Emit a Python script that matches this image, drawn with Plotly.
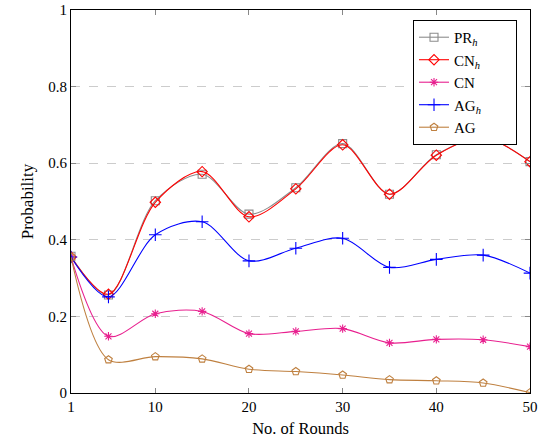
import plotly.graph_objects as go

rounds = [1, 5, 10, 15, 20, 25, 30, 35, 40, 45, 50]
pr_h = [0.357, 0.256, 0.502, 0.571, 0.467, 0.536, 0.651, 0.519, 0.622, 0.667, 0.604]
cn_h = [0.355, 0.258, 0.498, 0.578, 0.460, 0.533, 0.648, 0.519, 0.621, 0.667, 0.604]
cn = [0.355, 0.148, 0.207, 0.213, 0.155, 0.161, 0.168, 0.131, 0.140, 0.139, 0.121]
ag_h = [0.355, 0.251, 0.413, 0.447, 0.345, 0.378, 0.404, 0.328, 0.349, 0.360, 0.313]
ag = [0.355, 0.087, 0.095, 0.089, 0.062, 0.056, 0.047, 0.035, 0.032, 0.026, 0.001]

x_ticks = [1, 10, 20, 30, 40, 50]
y_ticks = [0, 0.2, 0.4, 0.6, 0.8, 1]
y_tick_text = ["0", "0.2", "0.4", "0.6", "0.8", "1"]

labels = ["PR<sub><i>h</i></sub>", "CN<sub><i>h</i></sub>", "CN", "AG<sub><i>h</i></sub>", "AG"]

series = [
    (labels[0], pr_h, "#8c8c8c", "square-open", 8),
    (labels[1], cn_h, "#ff0000", "diamond-open", 8),
    (labels[2], cn, "#e8208f", "asterisk-open", 7),
    (labels[3], ag_h, "#0000ff", "cross-thin-open", 9),
    (labels[4], ag, "#bf8040", "pentagon-open", 8),
]

FONT = "Liberation Serif, DejaVu Serif, serif"
PAD = "&nbsp;" * 8

fig = go.Figure()
for name, vals, color, sym, size in series:
    fig.add_trace(go.Scatter(
        x=rounds, y=vals, name=name + PAD, mode="lines+markers",
        line=dict(color=color, width=1.1, shape="spline", smoothing=0.9),
        marker=dict(symbol=sym, size=size, color=color, line=dict(width=1.1, color=color)),
    ))

fig.update_layout(
    width=546, height=440,
    margin=dict(l=71, r=16, t=10, b=47),
    paper_bgcolor="white", plot_bgcolor="white",
    font=dict(family=FONT, size=15, color="black"),
    showlegend=True,
    legend=dict(
        x=0.9717, y=0.974, xanchor="right", yanchor="top",
        bordercolor="black", borderwidth=1, bgcolor="white",
        font=dict(family=FONT, size=15),
        tracegroupgap=0, itemsizing="trace",
    ),
    xaxis=dict(
        range=[1, 50], tickvals=x_ticks, ticks="inside", ticklen=5,
        tickcolor="#888888", showline=True, linecolor="black", linewidth=1,
        mirror="allticks", showgrid=False, zeroline=False, automargin=False,
        title=dict(text="No. of Rounds", font=dict(family=FONT, size=16.5), standoff=8),
    ),
    yaxis=dict(
        range=[0, 1], tickvals=y_ticks, ticktext=y_tick_text, ticks="inside", ticklen=5,
        tickcolor="#888888", showline=True, linecolor="black", linewidth=1,
        mirror="allticks", showgrid=True, gridcolor="#cccccc", griddash="dash",
        gridwidth=1, zeroline=False, automargin=False,
        title=dict(text="Probability", font=dict(family=FONT, size=17), standoff=10),
    ),
)

fig.write_html("out.html", config={"displayModeBar": False},
               post_script="document.body.style.margin='0';")
